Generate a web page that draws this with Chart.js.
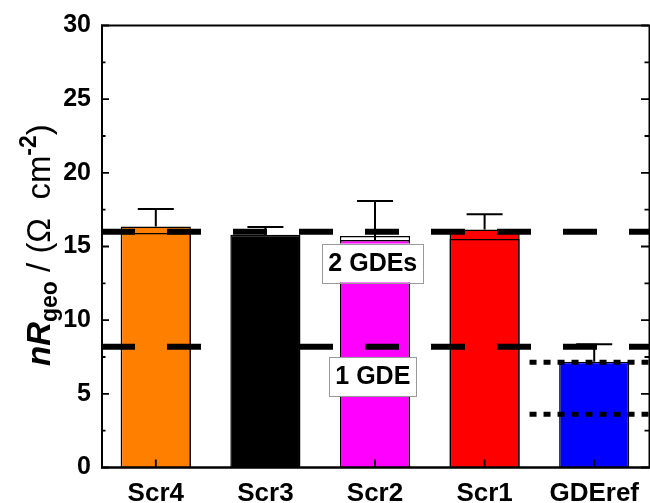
<!DOCTYPE html>
<html><head><meta charset="utf-8">
<style>html,body{margin:0;padding:0;background:#fff;overflow:hidden}#wrap{width:650px;height:503px;position:relative}</style>
<script src="https://cdn.jsdelivr.net/npm/chart.js@4"></script>
</head><body><div id="wrap"><canvas id="c" width="650" height="503"></canvas></div>
<script>
const categories = ['Scr4', 'Scr3', 'Scr2', 'Scr1', 'GDEref'];
const barValues = [16.35, 15.8, 15.44, 16.16, 7.18];
const barColors = ['#FF8000', '#000000', '#FF00FF', '#FF0000', '#0000FF'];
const outlineValues = [15.92, null, 15.71, 15.51, null];
const errorPlus = [1.19, 0.52, 2.65, 1.03, 1.18];
const dashedLevels = [16.0, 8.19];
const dottedLevels = [7.14, 3.61];
const dottedStart = 3.41;
const labelTexts = ['2 GDEs', '1 GDE'];
const labelY = [13.88, 6.18];
const labelX = [1.98, 1.98];
const yTicks = [0, 5, 10, 15, 20, 25, 30];
const yMinorTicks = [2.5, 7.5, 12.5, 17.5, 22.5, 27.5];

const FONT = '"Liberation Sans", Arial, sans-serif';

const overlay = {
  id: 'overlay',
  afterDatasetsDraw(chart) {
    const ctx = chart.ctx;
    const xs = chart.scales.x, ys = chart.scales.y;
    const a = chart.chartArea;
    ctx.save();
    // error bars
    ctx.strokeStyle = '#000';
    ctx.lineWidth = 2;
    ctx.setLineDash([]);
    for (let i = 0; i < barValues.length; i++) {
      const x = xs.getPixelForValue(i);
      const yb = ys.getPixelForValue(barValues[i]);
      const yt = ys.getPixelForValue(barValues[i] + errorPlus[i]);
      ctx.beginPath();
      ctx.moveTo(x, yb); ctx.lineTo(x, yt);
      ctx.moveTo(x - 18, yt); ctx.lineTo(x + 18, yt);
      ctx.stroke();
    }
    // dashed levels
    ctx.lineWidth = 6;
    ctx.lineCap = 'butt';
    ctx.setLineDash([34, 32]);
    for (const v of dashedLevels) {
      const y = ys.getPixelForValue(v);
      ctx.beginPath();
      ctx.moveTo(a.left, y); ctx.lineTo(a.right, y);
      ctx.stroke();
    }
    // dotted levels
    ctx.lineWidth = 5;
    ctx.setLineDash([7, 7]);
    const xd = xs.getPixelForValue(dottedStart);
    for (const v of dottedLevels) {
      const y = ys.getPixelForValue(v);
      ctx.beginPath();
      ctx.moveTo(xd, y); ctx.lineTo(a.right, y);
      ctx.stroke();
    }
    ctx.setLineDash([]);
    // frame
    ctx.lineWidth = 2;
    ctx.beginPath();
    ctx.moveTo(a.left + 1, a.top); ctx.lineTo(a.left + 1, a.bottom);
    ctx.moveTo(a.left, a.top); ctx.lineTo(a.right + 2, a.top);
    ctx.moveTo(a.right + 0.5, a.top); ctx.lineTo(a.right + 0.5, a.bottom);
    ctx.stroke();
    ctx.lineWidth = 2.5;
    ctx.beginPath();
    ctx.moveTo(a.left, a.bottom); ctx.lineTo(a.right + 2, a.bottom);
    ctx.stroke();
    // ticks
    ctx.lineWidth = 1.8;
    ctx.beginPath();
    for (const v of yTicks) {
      const y = ys.getPixelForValue(v);
      ctx.moveTo(a.left, y); ctx.lineTo(a.left + 8, y);
      ctx.moveTo(a.right, y); ctx.lineTo(a.right - 8, y);
    }
    for (const v of yMinorTicks) {
      const y = ys.getPixelForValue(v);
      ctx.moveTo(a.left, y); ctx.lineTo(a.left + 4.5, y);
      ctx.moveTo(a.right, y); ctx.lineTo(a.right - 4.5, y);
    }
    for (let i = 0; i < categories.length; i++) {
      const x = xs.getPixelForValue(i);
      ctx.moveTo(x, a.bottom); ctx.lineTo(x, a.bottom - 8);
    }
    ctx.stroke();
    // label boxes
    ctx.font = 'bold 25px ' + FONT;
    ctx.textAlign = 'center';
    ctx.textBaseline = 'middle';
    for (let i = 0; i < labelTexts.length; i++) {
      const cx = xs.getPixelForValue(labelX[i]);
      const cy = ys.getPixelForValue(labelY[i]);
      const w = ctx.measureText(labelTexts[i]).width + 12;
      const h = 39;
      ctx.fillStyle = '#fff';
      ctx.fillRect(cx - w / 2, cy - h / 2, w, h);
      ctx.strokeStyle = '#9a9a9a';
      ctx.lineWidth = 1;
      ctx.strokeRect(Math.round(cx - w / 2) + 0.5, Math.round(cy - h / 2) + 0.5, Math.round(w), h);
      ctx.fillStyle = '#000';
      ctx.fillText(labelTexts[i], cx, cy + 1);
    }
    // y title (rich text, rotated)
    const parts = [
      {t: 'n', f: 'italic bold 33px ' + FONT, dy: 0},
      {t: 'R', f: 'italic bold 33px ' + FONT, dy: 0},
      {t: 'geo', f: 'bold 23px ' + FONT, dy: 7},
      {t: ' / (\u03A9  cm', f: '33px ' + FONT, dy: 0},
      {t: '-2', f: 'bold 23px ' + FONT, dy: -14},
      {t: ')', f: '33px ' + FONT, dy: 0}
    ];
    ctx.translate(50, 366);
    ctx.rotate(-Math.PI / 2);
    ctx.textAlign = 'left';
    ctx.textBaseline = 'alphabetic';
    ctx.fillStyle = '#000';
    let px = 0;
    for (const p of parts) { ctx.font = p.f; ctx.fillText(p.t, px, p.dy); px += ctx.measureText(p.t).width; }
    ctx.restore();
  }
};

new Chart(document.getElementById('c').getContext('2d'), {
  type: 'bar',
  data: {
    labels: categories,
    datasets: [
      {data: barValues, backgroundColor: barColors, borderColor: '#000', borderWidth: 1.5,
       barPercentage: 0.64, categoryPercentage: 1, grouped: false, order: 2},
      {data: outlineValues, backgroundColor: 'rgba(0,0,0,0)', borderColor: '#000', borderWidth: 1.2,
       barPercentage: 0.64, categoryPercentage: 1, grouped: false, order: 1}
    ]
  },
  options: {
    responsive: false, animation: false, devicePixelRatio: 1,
    layout: {padding: {top: 25.5, right: 0, left: 0, bottom: 0}},
    plugins: {legend: {display: false}, tooltip: {enabled: false}, title: {display: false}},
    scales: {
      x: {
        grid: {display: false, drawTicks: false}, border: {display: false},
        ticks: {color: '#000', font: {family: FONT, size: 26, weight: 'bold'}, padding: 11, maxRotation: 0, autoSkip: false},
        afterFit(s) { s.height = 35.5; }
      },
      y: {
        min: 0, max: 30,
        grid: {display: false, drawTicks: false}, border: {display: false},
        ticks: {stepSize: 5, color: '#000', font: {family: FONT, size: 25, weight: 'bold'}, padding: 10},
        afterFit(s) { s.width = 101; }
      }
    }
  },
  plugins: [overlay]
});
</script>
</body></html>
